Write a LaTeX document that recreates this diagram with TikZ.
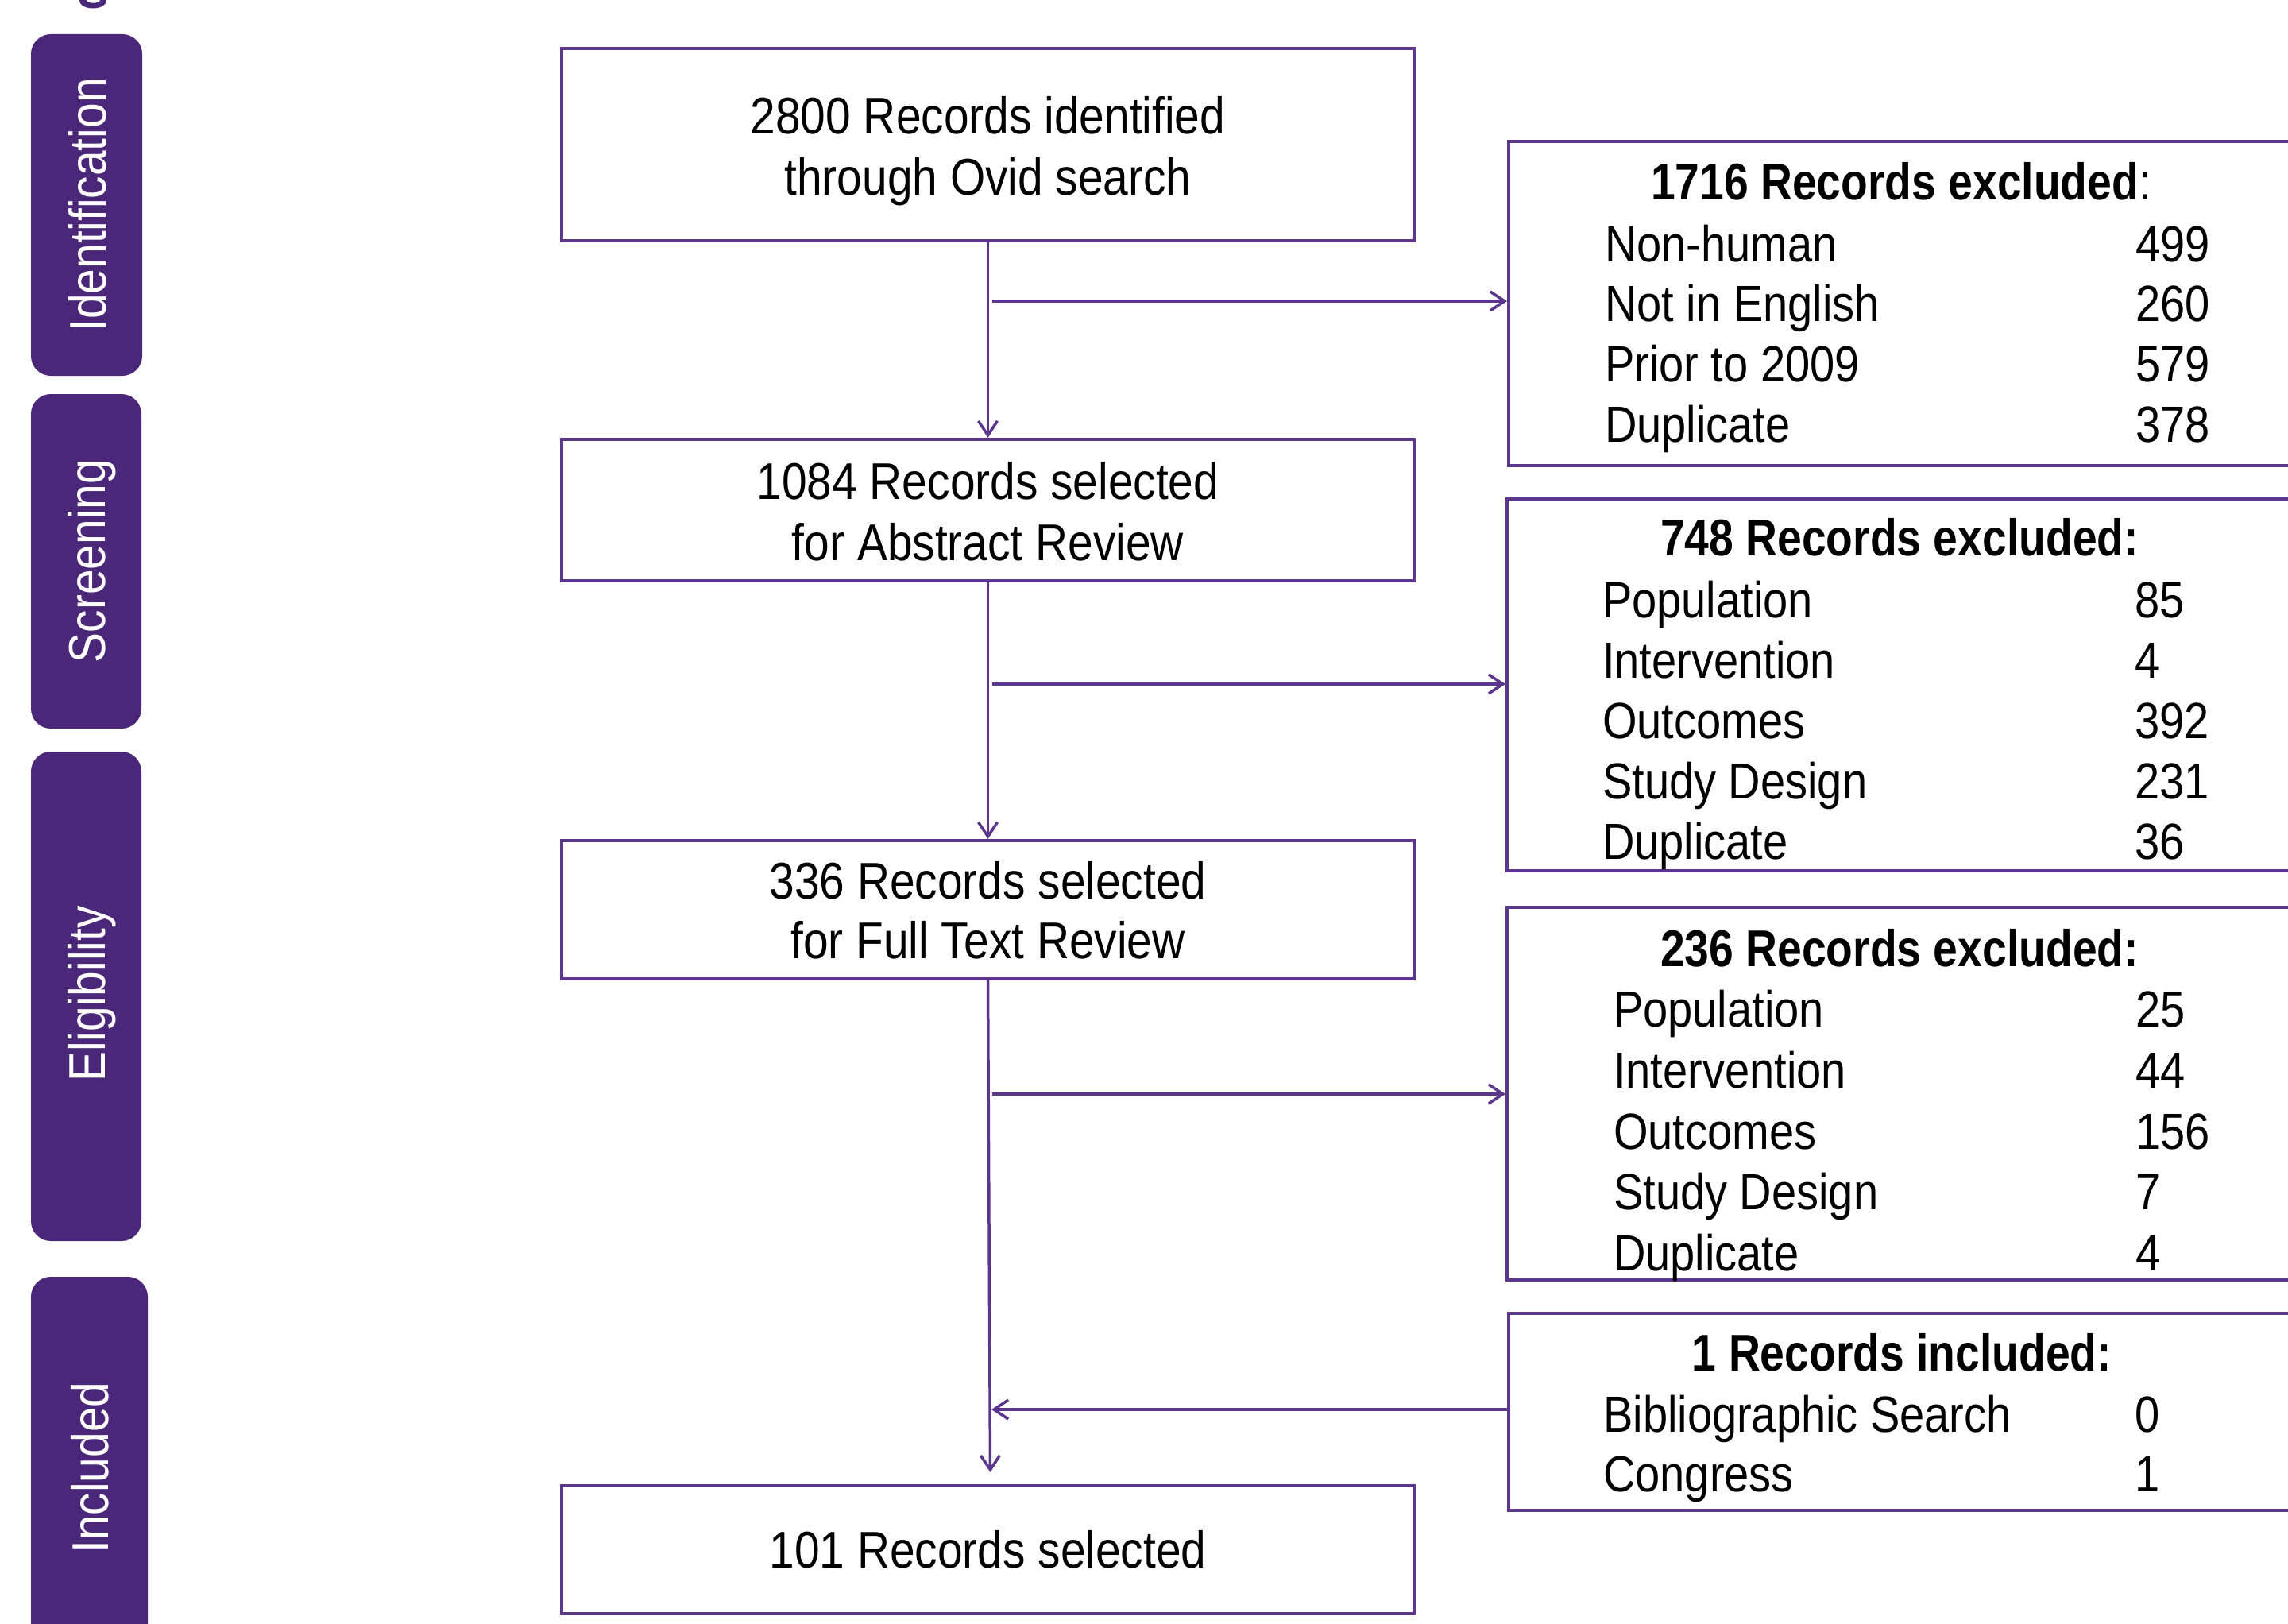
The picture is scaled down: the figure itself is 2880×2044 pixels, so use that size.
\documentclass[tikz,border=0pt]{standalone}
\usepackage{fontspec}
\setmainfont{Liberation Sans}
\newfontfamily\narrow{Liberation Sans}[FakeStretch=0.875]
\newfontfamily\narrowb{Liberation Sans}[FakeStretch=0.85]
\usetikzlibrary{arrows.meta,calc}

\definecolor{barfill}{RGB}{75,39,121}
\definecolor{edge}{RGB}{92,54,140}

\begin{document}
\begin{tikzpicture}[x=1pt,y=-1pt,
  stage/.style={fill=barfill, draw=none, rounded corners=25pt, inner sep=0},
  stagelabel/.style={text=white, rotate=90, anchor=base, inner sep=0,
    font=\narrow\fontsize{65}{75}\selectfont},
  mainbox/.style={draw=edge, line width=4pt, inner sep=0, minimum width=1073pt},
  sidebox/.style={draw=edge, line width=4pt, inner sep=0},
  mainline/.style={anchor=base, inner sep=0, font=\narrow\fontsize{65}{75}\selectfont},
  head/.style={anchor=base, inner sep=0, font=\narrowb\bfseries\fontsize{65}{75}\selectfont},
  item/.style={anchor=base west, inner sep=0, font=\narrow\fontsize{64}{74}\selectfont},
  flow/.style={draw=edge, line width=3.5pt, -{Straight Barb[length=18pt,width=24pt]}},
]
\useasboundingbox (0,0) rectangle (2880,2044);
\clip (0,0) rectangle (2880,2044);

% fragment of a heading glyph at the top edge
\fill[barfill] (100,0) .. controls (100,14) and (134,14) .. (134,0)
  -- (126,0) .. controls (126,5) and (109,5) .. (109,0) -- cycle;

% stage bars
\node[stage, minimum width=140pt, minimum height=430pt] (s1) at (109,258) {};
\node[stagelabel] (s1t) at (133,258) {Identification};
\node[stage, minimum width=139pt, minimum height=421pt] (s2) at (108.5,706.5) {};
\node[stagelabel] (s2t) at (132.5,706) {Screening};
\node[stage, minimum width=139pt, minimum height=616pt] (s3) at (108.5,1254) {};
\node[stagelabel] (s3t) at (132.5,1251) {Eligibility};
\node[stage, minimum width=147pt, minimum height=480pt] (s4) at (112.5,1847) {};
\node[stagelabel] (s4t) at (136.5,1847) {Included};

% main flow boxes
\node[mainbox, minimum height=242pt] (b1) at (1243.5,182) {};
\node[mainline] (b1a) at (1243.5,169) {2800 Records identified};
\node[mainline] (b1b) at (1243.5,246) {through Ovid search};

\node[mainbox, minimum height=178pt] (b2) at (1243.5,642) {};
\node[mainline] (b2a) at (1243.5,628) {1084 Records selected};
\node[mainline] (b2b) at (1243.5,705) {for Abstract Review};

\node[mainbox, minimum height=174pt] (b3) at (1243.5,1145) {};
\node[mainline] (b3a) at (1243.5,1131) {336 Records selected};
\node[mainline] (b3b) at (1243.5,1206) {for Full Text Review};

\node[mainbox, minimum height=161pt] (b4) at (1243.5,1950.5) {};
\node[mainline] (b4a) at (1243.5,1973) {101 Records selected};

% side boxes
\node[sidebox, minimum width=987pt, minimum height=408pt] (r1) at (2392.5,382) {};
\node[head] (r1h) at (2393,252) {1716 Records excluded{\narrow\mdseries :}};
\node[item] (r1a) at (2020,329) {Non-human};
\node[item] (r1b) at (2020,404) {Not in English};
\node[item] (r1c) at (2020,480) {Prior to 2009};
\node[item] (r1d) at (2020,556) {Duplicate};
\node[item] (r1an) at (2688,329) {499};
\node[item] (r1bn) at (2688,404) {260};
\node[item] (r1cn) at (2688,480) {579};
\node[item] (r1dn) at (2688,556) {378};

\node[sidebox, minimum width=989pt, minimum height=468pt] (r2) at (2391.5,862) {};
\node[head] (r2h) at (2391,699) {748 Records excluded:};
\node[item] (r2a) at (2017,777) {Population};
\node[item] (r2b) at (2017,853) {Intervention};
\node[item] (r2c) at (2017,929) {Outcomes};
\node[item] (r2d) at (2017,1005) {Study Design};
\node[item] (r2e) at (2017,1081) {Duplicate};
\node[item] (r2an) at (2687,777) {85};
\node[item] (r2bn) at (2687,853) {4};
\node[item] (r2cn) at (2687,929) {392};
\node[item] (r2dn) at (2687,1005) {231};
\node[item] (r2en) at (2687,1081) {36};

\node[sidebox, minimum width=989pt, minimum height=469pt] (r3) at (2391.5,1376.5) {};
\node[head] (r3h) at (2391,1216) {236 Records excluded:};
\node[item] (r3a) at (2031,1292) {Population};
\node[item] (r3b) at (2031,1369) {Intervention};
\node[item] (r3c) at (2031,1446) {Outcomes};
\node[item] (r3d) at (2031,1522) {Study Design};
\node[item] (r3e) at (2031,1599) {Duplicate};
\node[item] (r3an) at (2688,1292) {25};
\node[item] (r3bn) at (2688,1369) {44};
\node[item] (r3cn) at (2688,1446) {156};
\node[item] (r3dn) at (2688,1522) {7};
\node[item] (r3en) at (2688,1599) {4};

\node[sidebox, minimum width=987pt, minimum height=248pt] (r4) at (2392.5,1777) {};
\node[head] (r4h) at (2394,1725) {1 Records included:};
\node[item] (r4a) at (2018,1802) {Bibliographic Search};
\node[item] (r4b) at (2018,1877) {Congress};
\node[item] (r4an) at (2687,1802) {0};
\node[item] (r4bn) at (2687,1877) {1};

% connectors
\draw[flow] (b1.south) -- (b2.north);
\draw[flow] (b2.south) -- (b3.north);
\draw[flow] (b3.south) -- ($(b4.north)+(3,-15)$);

\coordinate (t1) at (1249,379);
\coordinate (t2) at (1249,861);
\coordinate (t3) at (1249,1377);
\coordinate (t4) at (1248,1774);
\draw[flow] (t1) -- (t1 -| r1.west);
\draw[flow] (t2) -- (t2 -| r2.west);
\draw[flow] (t3) -- (t3 -| r3.west);
\draw[flow] (t4 -| r4.west) -- (t4);
\end{tikzpicture}
\end{document}
